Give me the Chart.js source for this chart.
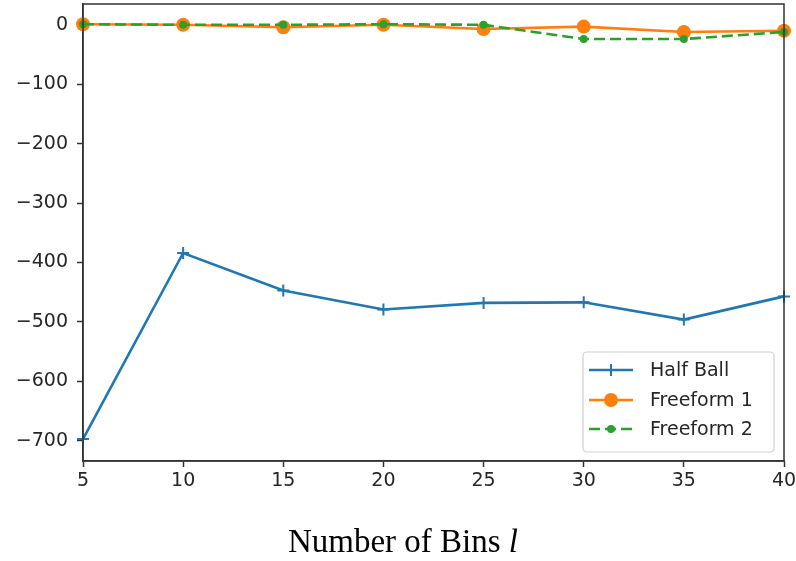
<!DOCTYPE html>
<html><head><meta charset="utf-8">
<script src="https://cdn.jsdelivr.net/npm/chart.js@4.4.1/dist/chart.umd.min.js"></script>
<style>html,body{margin:0;padding:0;background:#fff;}</style>
</head><body>
<canvas id="c" width="796" height="561"></canvas>
<script>
// Bin counts on the x axis and the three series plotted against them
const bins = [5, 10, 15, 20, 25, 30, 35, 40];
const halfBall = [-697, -384, -447, -479, -468, -467, -496, -457];
const freeform1 = [1, 0, -4, 0, -7, -3, -12, -10];
const freeform2 = [1, 0, 0, 1, 0, -24, -24, -12];
const seriesNames = ['Half Ball', 'Freeform 1', 'Freeform 2'];
const xTickValues = [5, 10, 15, 20, 25, 30, 35, 40];
const yTickValues = [0, -100, -200, -300, -400, -500, -600, -700];
const xTitleMain = 'Number of Bins ';
const xTitleVar = 'l';

const BLUE = '#1f77b4', ORANGE = '#ff7f0e', GREEN = '#2ca02c';
const AXIS = '#333333', TEXT = '#262626';
const TICK_FONT = { family: '"DejaVu Sans", sans-serif', size: 19 };

const toXY = vals => bins.map((b, i) => ({ x: b, y: vals[i] }));

// Full box around the plot area (matplotlib-style spines)
const framePlugin = {
  id: 'frame',
  afterDatasetsDraw(chart) {
    const a = chart.chartArea, ctx = chart.ctx;
    ctx.save();
    ctx.strokeStyle = AXIS;
    ctx.lineWidth = 1.5;
    ctx.strokeRect(a.left, a.top, a.right - a.left, a.bottom - a.top);
    ctx.restore();
  }
};

// Legend with a line sample and marker for each series
const legendPlugin = {
  id: 'lineLegend',
  afterDraw(chart) {
    const ctx = chart.ctx;
    const bx = 583, by = 352, bw = 191, bh = 100, r = 4;
    ctx.save();
    ctx.fillStyle = 'rgba(255,255,255,0.9)';
    ctx.strokeStyle = '#d0d0d0';
    ctx.lineWidth = 1.2;
    ctx.beginPath();
    ctx.roundRect(bx, by, bw, bh, r);
    ctx.fill();
    ctx.stroke();
    const rows = [370, 400, 429];
    chart.data.datasets.forEach((ds, i) => {
      const y = rows[i];
      ctx.strokeStyle = ds.borderColor;
      ctx.lineWidth = ds.borderWidth;
      ctx.setLineDash(ds.borderDash || []);
      ctx.beginPath();
      ctx.moveTo(589, y);
      ctx.lineTo(633, y);
      ctx.stroke();
      ctx.setLineDash([]);
      const cx = 611;
      if (ds.pointStyle === 'cross') {
        ctx.lineWidth = 2;
        ctx.beginPath();
        ctx.moveTo(cx - 6, y); ctx.lineTo(cx + 6, y);
        ctx.moveTo(cx, y - 6); ctx.lineTo(cx, y + 6);
        ctx.stroke();
      } else {
        ctx.fillStyle = ds.pointBackgroundColor;
        ctx.beginPath();
        ctx.arc(cx, y, ds.pointRadius, 0, Math.PI * 2);
        ctx.fill();
      }
      ctx.fillStyle = TEXT;
      ctx.font = '19px "DejaVu Sans", sans-serif';
      ctx.textBaseline = 'middle';
      ctx.textAlign = 'left';
      ctx.fillText(ds.label, 650, y + 1);
    });
    ctx.restore();
  }
};

// Axis title in a serif face with an italic variable name
const xTitlePlugin = {
  id: 'xTitle',
  afterDraw(chart) {
    const ctx = chart.ctx;
    ctx.save();
    const fMain = '33px "Liberation Serif", "Times New Roman", serif';
    const fVar = 'italic 33px "Liberation Serif", "Times New Roman", serif';
    ctx.font = fMain;
    const w1 = ctx.measureText(xTitleMain).width;
    ctx.font = fVar;
    const w2 = ctx.measureText(xTitleVar).width;
    const x0 = 403 - (w1 + w2) / 2, base = 552;
    ctx.fillStyle = '#000';
    ctx.textBaseline = 'alphabetic';
    ctx.textAlign = 'left';
    ctx.font = fMain;
    ctx.fillText(xTitleMain, x0, base);
    ctx.font = fVar;
    ctx.fillText(xTitleVar, x0 + w1, base);
    ctx.restore();
  }
};

new Chart(document.getElementById('c'), {
  type: 'line',
  data: {
    datasets: [
      {
        label: seriesNames[0], data: toXY(halfBall),
        borderColor: BLUE, backgroundColor: BLUE, borderWidth: 2.6,
        pointStyle: 'cross', pointRadius: 6, pointBorderWidth: 2,
        pointBorderColor: BLUE, pointBackgroundColor: BLUE,
        tension: 0, clip: false, order: 3
      },
      {
        label: seriesNames[1], data: toXY(freeform1),
        borderColor: ORANGE, backgroundColor: ORANGE, borderWidth: 2.6,
        pointStyle: 'circle', pointRadius: 7, pointBorderWidth: 0,
        pointBackgroundColor: ORANGE, pointBorderColor: ORANGE,
        tension: 0, clip: false, order: 2
      },
      {
        label: seriesNames[2], data: toXY(freeform2),
        borderColor: GREEN, backgroundColor: GREEN, borderWidth: 2.6,
        borderDash: [11, 5],
        pointStyle: 'circle', pointRadius: 4, pointBorderWidth: 0,
        pointBackgroundColor: GREEN, pointBorderColor: GREEN,
        tension: 0, clip: false, order: 1
      }
    ]
  },
  options: {
    responsive: false,
    animation: false,
    devicePixelRatio: 1,
    layout: { autoPadding: false, padding: { top: 4, right: 12, left: 0, bottom: 0 } },
    plugins: { legend: { display: false }, tooltip: { enabled: false } },
    scales: {
      x: {
        type: 'linear', position: 'bottom', min: 5, max: 40,
        afterBuildTicks: s => { s.ticks = xTickValues.map(v => ({ value: v })); },
        afterFit: s => { s.height = 100; s.paddingLeft = 0; s.paddingRight = 0; },
        ticks: { font: TICK_FONT, color: TEXT, padding: 3, maxRotation: 0, autoSkip: false },
        grid: { drawOnChartArea: false, drawTicks: true, tickLength: 6, tickWidth: 1.5, tickColor: AXIS },
        border: { display: true, color: AXIS, width: 1.5 }
      },
      y: {
        type: 'linear', min: -734, max: 35,
        afterBuildTicks: s => { s.ticks = yTickValues.map(v => ({ value: v })); },
        afterFit: s => { s.width = 83; s.paddingTop = 0; s.paddingBottom = 0; },
        ticks: {
          font: TICK_FONT, color: TEXT, padding: 9,
          callback: v => (v < 0 ? '\u2212' + Math.abs(v) : String(v))
        },
        grid: { drawOnChartArea: false, drawTicks: true, tickLength: 6, tickWidth: 1.5, tickColor: AXIS },
        border: { display: true, color: AXIS, width: 1.5 }
      }
    }
  },
  plugins: [framePlugin, legendPlugin, xTitlePlugin]
});
</script>
</body></html>
